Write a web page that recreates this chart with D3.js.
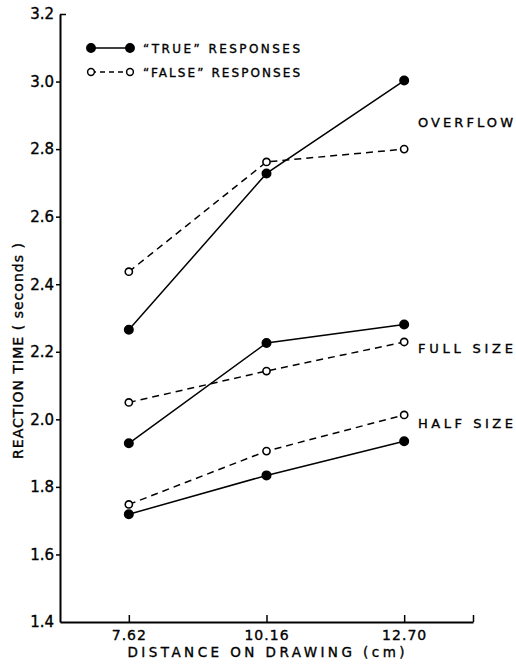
<!DOCTYPE html>
<html>
<head>
<meta charset="utf-8">
<script src="https://cdnjs.cloudflare.com/ajax/libs/d3/7.8.5/d3.min.js"></script>
<style>
  body { margin: 0; background: #fff; }
  text { font-family: "DejaVu Sans", sans-serif; fill: #000; stroke: #000; stroke-width: 0.35px; }
</style>
</head>
<body>
<svg width="516" height="668"></svg>
<script>
// distances (cm) on the x axe
var distances = [7.62, 10.16, 12.70];
var xTickLabels = ["7.62", "10.16", "12.70", ""];
var yTicks = [1.4, 1.6, 1.8, 2.0, 2.2, 2.4, 2.6, 2.8, 3.0, 3.2];

// reaction times (seconds)
var overflowTrue  = [2.265, 2.728, 3.003];
var overflowFalse = [2.437, 2.762, 2.800];
var fullTrue      = [1.929, 2.226, 2.281];
var fullFalse     = [2.050, 2.143, 2.229];
var halfTrue      = [1.719, 1.834, 1.935];
var halfFalse     = [1.748, 1.906, 2.013];

var groupNames = ["OVERFLOW", "FULL SIZE", "HALF SIZE"];

var svg = d3.select("svg"),
    margin = {top: 14, left: 60},
    width = 413,
    height = 608,
    g = svg.append("g").attr("transform", "translate(" + margin.left + "," + margin.top + ")");

var x = d3.scaleLinear()
    .domain([6.35, 13.97])
    .range([0, width]);

var y = d3.scaleLinear()
    .domain([1.4, 3.2])
    .range([height, 0]);

var line = d3.line()
    .x(function(d, i) { return x(distances[i]); })
    .y(function(d) { return y(d); });

// Y axis
var yAxis = g.append("g")
    .call(d3.axisLeft(y)
        .tickValues(yTicks)
        .tickSize(4)
        .tickSizeOuter(0)
        .tickPadding(2)
        .tickFormat(d3.format(".1f")));
yAxis.select(".domain").attr("stroke-width", 2);
yAxis.selectAll(".tick line").attr("stroke-width", 1.5)
    .attr("x2", function(d) { return d === 3.2 ? 6 : (d === 1.4 ? 0 : -4); });
yAxis.selectAll(".tick text")
    .style("font-size", "15px");

// X axis
var xAxis = g.append("g")
    .attr("transform", "translate(0," + height + ")")
    .call(d3.axisBottom(x)
        .tickValues(distances.concat([13.97]))
        .tickSize(-7)
        .tickSizeOuter(0)
        .tickPadding(8)
        .tickFormat(function(d, i) { return xTickLabels[i]; }));
xAxis.select(".domain").attr("stroke-width", 2);
xAxis.selectAll(".tick line").attr("stroke-width", 1.5);
xAxis.selectAll(".tick text")
    .style("font-size", "14px")
    .attr("letter-spacing", 1);

// axis titles
svg.append("text")
    .attr("x", 266)
    .attr("y", 657)
    .attr("text-anchor", "middle")
    .attr("textLength", 277)
    .attr("lengthAdjust", "spacing")
    .style("font-size", "13.5px")
    .text("DISTANCE ON DRAWING  (cm)");

svg.append("text")
    .attr("transform", "translate(23,351) rotate(-90)")
    .attr("text-anchor", "middle")
    .attr("textLength", 216)
    .attr("lengthAdjust", "spacing")
    .style("font-size", "14px")
    .text("REACTION  TIME  ( seconds )");

// series
var series = [
    {values: overflowTrue,  filled: true},
    {values: overflowFalse, filled: false},
    {values: fullTrue,      filled: true},
    {values: fullFalse,     filled: false},
    {values: halfTrue,      filled: true},
    {values: halfFalse,     filled: false}
];

series.forEach(function(s) {
    g.append("path")
        .datum(s.values)
        .attr("fill", "none")
        .attr("stroke", "#000")
        .attr("stroke-width", 1.5)
        .attr("stroke-dasharray", s.filled ? null : "7,5")
        .attr("d", line);

    g.selectAll(null)
        .data(s.values)
      .enter().append("circle")
        .attr("r", s.filled ? 4.2 : 3.6)
        .attr("cx", function(d, i) { return x(distances[i]); })
        .attr("cy", function(d) { return y(d); })
        .attr("fill", s.filled ? "#000" : "#fff")
        .attr("stroke", "#000")
        .attr("stroke-width", 1.6);
});

// group labels
var labelY = [122, 348, 423];
groupNames.forEach(function(name, i) {
    svg.append("text")
        .attr("x", 418)
        .attr("y", labelY[i] + 5)
        .attr("textLength", 95)
        .attr("lengthAdjust", "spacing")
        .style("font-size", "13px")
        .text(name);
});

// legend
var legend = svg.append("g");
[{label: "\u201CTRUE\u201D RESPONSES", filled: true, y: 48},
 {label: "\u201CFALSE\u201D RESPONSES", filled: false, y: 72}].forEach(function(l) {
    legend.append("line")
        .attr("x1", 91).attr("x2", 130)
        .attr("y1", l.y).attr("y2", l.y)
        .attr("stroke", "#000")
        .attr("stroke-width", 1.5)
        .attr("stroke-dasharray", l.filled ? null : "5,4");
    [91, 130].forEach(function(cx) {
        legend.append("circle")
            .attr("cx", cx).attr("cy", l.y)
            .attr("r", l.filled ? 4.2 : 3.4)
            .attr("fill", l.filled ? "#000" : "#fff")
            .attr("stroke", "#000")
            .attr("stroke-width", 1.5);
    });
    legend.append("text")
        .attr("x", 143)
        .attr("y", l.y + 4.5)
        .attr("textLength", 157)
        .attr("lengthAdjust", "spacing")
        .style("font-size", "12px")
        .text(l.label);
});
</script>
</body>
</html>
